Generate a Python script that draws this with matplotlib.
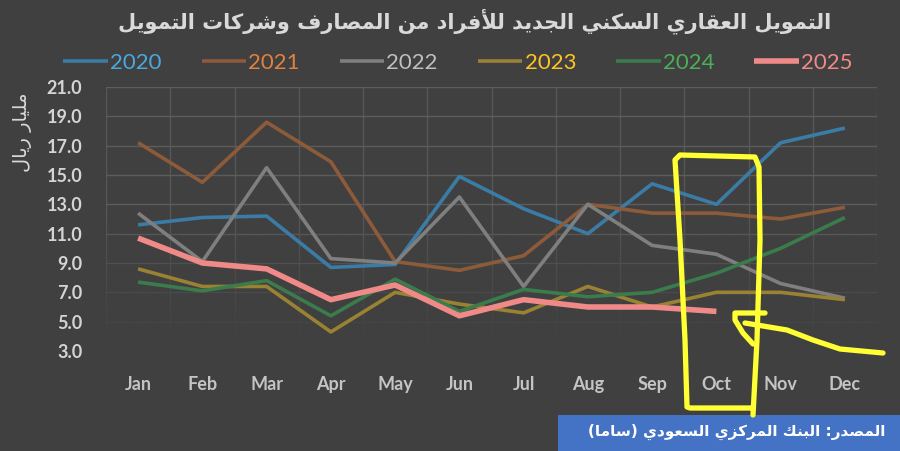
import matplotlib
matplotlib.use("Agg")
import matplotlib.pyplot as plt
import numpy as np
from matplotlib.colors import to_rgb
from matplotlib.lines import Line2D
from matplotlib.patches import Rectangle

# data (billion SAR)
months = ["Jan", "Feb", "Mar", "Apr", "May", "Jun", "Jul", "Aug", "Sep", "Oct", "Nov", "Dec"]
y2020 = [11.6, 12.1, 12.2, 8.7, 8.9, 14.9, 12.7, 11.0, 14.4, 13.0, 17.2, 18.2]
y2021 = [17.2, 14.5, 18.6, 15.9, 9.1, 8.5, 9.5, 13.0, 12.4, 12.4, 12.0, 12.8]
y2022 = [12.4, 9.1, 15.5, 9.3, 9.0, 13.5, 7.4, 13.0, 10.2, 9.6, 7.6, 6.6]
y2023 = [8.6, 7.4, 7.4, 4.3, 7.0, 6.2, 5.6, 7.4, 6.0, 7.0, 7.0, 6.5]
y2024 = [7.7, 7.1, 7.8, 5.4, 7.9, 5.7, 7.2, 6.7, 7.0, 8.3, 10.0, 12.1]
y2025 = [10.7, 9.0, 8.6, 6.5, 7.5, 5.4, 6.5, 6.0, 6.0, 5.7]
years = ["2020", "2021", "2022", "2023", "2024", "2025"]
yticks = [3, 5, 7, 9, 11, 13, 15, 17, 19, 21]

title_txt = "التمويل العقاري السكني الجديد للأفراد من المصارف وشركات التمويل"
ylabel_txt = "مليار ريال"
source_txt = "المصدر: البنك المركزي السعودي (ساما)"

# --- tiny arabic shaper (matplotlib has no complex text layout) ---
FORMS = {
    "ا": ("\uFE8D", "\uFE8E"), "أ": ("\uFE83", "\uFE84"),
    "د": ("\uFEA9", "\uFEAA"), "ر": ("\uFEAD", "\uFEAE"),
    "ز": ("\uFEAF", "\uFEB0"), "و": ("\uFEED", "\uFEEE"),
    "ب": ("\uFE8F", "\uFE90", "\uFE91", "\uFE92"),
    "ت": ("\uFE95", "\uFE96", "\uFE97", "\uFE98"),
    "ج": ("\uFE9D", "\uFE9E", "\uFE9F", "\uFEA0"),
    "س": ("\uFEB1", "\uFEB2", "\uFEB3", "\uFEB4"),
    "ش": ("\uFEB5", "\uFEB6", "\uFEB7", "\uFEB8"),
    "ص": ("\uFEB9", "\uFEBA", "\uFEBB", "\uFEBC"),
    "ع": ("\uFEC9", "\uFECA", "\uFECB", "\uFECC"),
    "ف": ("\uFED1", "\uFED2", "\uFED3", "\uFED4"),
    "ق": ("\uFED5", "\uFED6", "\uFED7", "\uFED8"),
    "ك": ("\uFED9", "\uFEDA", "\uFEDB", "\uFEDC"),
    "ل": ("\uFEDD", "\uFEDE", "\uFEDF", "\uFEE0"),
    "م": ("\uFEE1", "\uFEE2", "\uFEE3", "\uFEE4"),
    "ن": ("\uFEE5", "\uFEE6", "\uFEE7", "\uFEE8"),
    "ي": ("\uFEF1", "\uFEF2", "\uFEF3", "\uFEF4"),
}
LAM_ALEF = {"ا": ("\uFEFB", "\uFEFC"), "أ": ("\uFEF7", "\uFEF8")}


def dual(c):
    return c in FORMS and len(FORMS[c]) == 4


def shape(text):
    out = []
    i = 0
    while i < len(text):
        c = text[i]
        if c not in FORMS:
            out.append(c)
            i += 1
            continue
        prev_j = i > 0 and dual(text[i - 1])
        nxt = text[i + 1] if i + 1 < len(text) else ""
        if c == "ل" and nxt in LAM_ALEF:
            out.append(LAM_ALEF[nxt][1 if prev_j else 0])
            i += 2
            continue
        next_j = dual(c) and nxt in FORMS
        f = FORMS[c]
        if prev_j and next_j:
            out.append(f[3])
        elif prev_j:
            out.append(f[1])
        elif next_j:
            out.append(f[2])
        else:
            out.append(f[0])
        i += 1
    s = "".join(reversed(out))
    return s.translate(str.maketrans("()", ")("))


BG = "#404040"
line_cols = ["#3b7ca6", "#8e5b3a", "#7f7f7f", "#9a8233", "#3a7c4b", "#f08a88"]
text_cols = ["#4aa8e0", "#e0823c", "#bfbfbf", "#ffc423", "#4cae55", "#f08a88"]
widths = [2.6, 2.6, 2.6, 2.6, 2.6, 4.0]
AR = ["DejaVu Sans"]

fig = plt.figure(figsize=(9, 4.51), dpi=100, facecolor=BG)
ax = fig.add_axes([106 / 900, 1 - 351 / 451, 771 / 900, 264 / 451])
ax.set_facecolor(BG)

series = [y2020, y2021, y2022, y2023, y2024, y2025]
for yr, vals, c, w in zip(years, series, line_cols, widths):
    ax.plot(range(len(vals)), vals, color=c, lw=w, label=yr, solid_capstyle="butt", zorder=3)

ax.set_xlim(-0.5, 11.5)
ax.set_ylim(3, 21)
ax.set_yticks(yticks)
ax.set_yticklabels([f"{v:.1f}" for v in yticks])
ax.set_xticks(range(12))
ax.set_xticklabels(months)
ax.set_xticks([k - 0.5 for k in range(13)], minor=True)
ax.grid(axis="y", which="major", color="#5c5c5c", lw=1)
ax.grid(axis="x", which="minor", color="#575757", lw=1)
ax.set_axisbelow(True)

# grid fades out towards the bottom of the plot
fade = np.zeros((200, 2, 4))
fade[..., :3] = to_rgb(BG)
fade[..., 3] = np.clip(np.linspace(1.0, -0.15, 200), 0, 1)[:, None] ** 0.8
ax.imshow(fade, extent=(-0.5, 11.5, 3, 13.5), origin="lower", aspect="auto",
          interpolation="bilinear", zorder=1)
ax.set_xlim(-0.5, 11.5)
ax.set_ylim(3, 21)

for s in ax.spines.values():
    s.set_visible(False)
ax.tick_params(which="both", length=0)
ax.tick_params(axis="y", pad=17, labelsize=13, labelcolor="#d4d4d4")
ax.tick_params(axis="x", pad=18, labelsize=13, labelcolor="#c4c4c4")
for lab in ax.get_xticklabels() + ax.get_yticklabels():
    lab.set_fontfamily("Lato")
    lab.set_fontweight("bold")

leg = fig.legend(loc="center", bbox_to_anchor=(458 / 900, 1 - 63 / 451), ncol=6,
                 frameon=False, handlelength=2.0, handletextpad=0.1, columnspacing=1.8,
                 prop={"family": "Lato", "size": 16})
for t, c in zip(leg.get_texts(), text_cols):
    t.set_color(c)

fig.text(475 / 900, 1 - 21 / 451, shape(title_txt), ha="center", va="center",
         fontsize=15, fontweight="bold", color="#d9d9d9", family=AR)
fig.text(23 / 900, 1 - 132 / 451, shape(ylabel_txt), ha="center", va="center",
         rotation=90, fontsize=14, color="#d9d9d9", family=AR)

fig.patches.append(Rectangle((558 / 900, 0), 342 / 900, 36 / 451,
                             transform=fig.transFigure, facecolor="#4472c4", edgecolor="none"))
fig.text(885 / 900, 1 - 432 / 451, shape(source_txt), ha="right", va="center",
         fontsize=11, fontweight="bold", color="white", family=AR)

# yellow hand-drawn marker over the chart (pixel coords of the screenshot)
scribbles = [
    [(753, 415), (757, 340), (760, 240), (759, 167), (755, 157), (680, 155), (675, 160),
     (680, 240), (685, 340), (687, 407), (690, 408), (753, 408)],
    [(765, 313), (735, 313), (735, 320), (743, 333), (753, 344)],
    [(745, 323), (787, 330), (813, 340), (840, 349), (883, 353)],
]
for pts in scribbles:
    xs = [p[0] / 900 for p in pts]
    ys = [1 - p[1] / 451 for p in pts]
    fig.add_artist(Line2D(xs, ys, transform=fig.transFigure, color="#ffff33", lw=3.8,
                          solid_joinstyle="round", solid_capstyle="round"))

fig.savefig("out.png", dpi=100, facecolor=BG)
